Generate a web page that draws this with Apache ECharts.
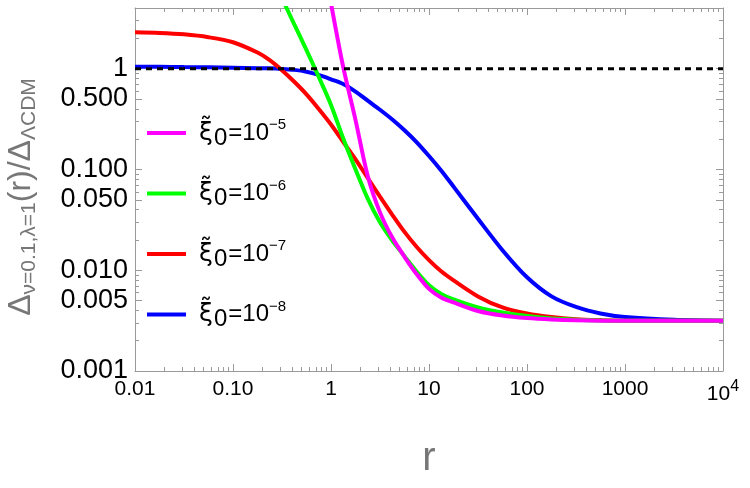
<!DOCTYPE html>
<html>
<head>
<meta charset="utf-8">
<script src="https://cdn.jsdelivr.net/npm/echarts@6/dist/echarts.min.js"></script>
<style>
  html, body { margin: 0; padding: 0; background: #fff; }
  #chart { width: 750px; height: 488px; }
</style>
</head>
<body>
<div id="chart"></div>
<script>
const rValues = [0.01, 0.0178, 0.0316, 0.0562, 0.1, 0.178, 0.237, 0.316, 0.422, 0.562, 0.75, 1, 1.33, 1.78, 2.37, 3.16, 4.22, 5.62, 7.5, 10, 13.3, 17.8, 31.6, 56.2, 100, 178, 316, 562, 1000, 3162, 10000]

// xi0 = 1e-5 (null = far above the frame)
const yPink = [null, null, null, null, null, null, null, null, null, null, 20.4, 4.44, 1.047, 0.309, 0.0861, 0.0375, 0.0211, 0.0136, 0.00912, 0.00653, 0.00537, 0.00479, 0.00394, 0.00355, 0.00335, 0.00324, 0.00318, 0.00316, 0.00316, 0.00316, 0.00316]
// xi0 = 1e-6
const yGreen = [null, null, null, null, null, 16.6, 9.12, 5.01, 2.75, 1.53, 0.828, 0.437, 0.204, 0.1, 0.0513, 0.0299, 0.0197, 0.0138, 0.00966, 0.00708, 0.00582, 0.00513, 0.00427, 0.0038, 0.00351, 0.00331, 0.00322, 0.00317, 0.00316, 0.00316, 0.00316]
// xi0 = 1e-7
const yRed = [2.30, 2.265, 2.19, 2.05, 1.83, 1.445, 1.216, 0.966, 0.741, 0.556, 0.398, 0.279, 0.188, 0.126, 0.0822, 0.0537, 0.0355, 0.024, 0.017, 0.0126, 0.00977, 0.00794, 0.0055, 0.00427, 0.00372, 0.00343, 0.00327, 0.0032, 0.00316, 0.00316, 0.00316]
// xi0 = 1e-8
const yBlue = [1.047, 1.042, 1.037, 1.033, 1.023, 1.012, 1.007, 0.995, 0.973, 0.933, 0.867, 0.785, 0.705, 0.592, 0.481, 0.391, 0.313, 0.245, 0.186, 0.136, 0.0977, 0.0676, 0.0324, 0.0158, 0.00851, 0.0055, 0.00432, 0.00372, 0.00343, 0.00322, 0.00316]

const refR = [0.01, 10000]
const refY = [1, 1]

const seriesNames = ['-5', '-6', '-7', '-8']
const seriesColors = ['#ff00ff', '#00ff00', '#ff0000', '#0000ff']

// ticks
const xTicks = [0.01, 0.1, 1, 10, 100, 1000, 10000]
const xTickLabels = ['0.01', '0.10', '1', '10', '100', '1000', '10{sup|4}']
const yTicks = [0.001, 0.005, 0.01, 0.05, 0.1, 0.5, 1]
const yTickLabels = ['0.001', '0.005', '0.010', '0.050', '0.100', '0.500', '1']

const xMinor = []
for (const d of [0.01, 0.1, 1, 10, 100, 1000]) {
  for (let k = 2; k < 10; k++) xMinor.push(d * k)
}
const yMinor = []
for (const d of [0.001, 0.01, 0.1, 1]) {
  for (let k = 2; k < 10; k++) if (k !== 5 && d * k < 4) yMinor.push(d * k)
}

const FONT = '"Liberation Sans", Arial, sans-serif'
const FRAME = '#9a9a9a'

function pairs (xs, ys) {
  return xs.map((x, i) => [x, ys[i]])
}
function lookup (v, ticks, labels) {
  let best = 0
  ticks.forEach((t, i) => {
    if (Math.abs(Math.log10(t) - Math.log10(v)) < Math.abs(Math.log10(ticks[best]) - Math.log10(v))) best = i
  })
  return labels[best]
}

function xAxisDef (pos, ticks, len, showLine, labels) {
  return {
    type: 'log', logBase: 10, min: 0.01, max: 10000, position: pos, gridIndex: 0,
    axisLine: { show: showLine, lineStyle: { color: FRAME, width: 1 } },
    axisTick: { show: true, inside: true, length: len, customValues: ticks, lineStyle: { color: FRAME } },
    axisLabel: labels ? {
      customValues: xTicks,
      formatter: v => lookup(v, xTicks, xTickLabels),
      fontSize: 21, color: '#000', fontFamily: FONT, margin: 8,
      rich: { sup: { fontSize: 16, fontFamily: FONT, color: '#000', padding: [0, 0, 14, 0] } }
    } : { show: false },
    splitLine: { show: false }
  }
}
function yAxisDef (pos, ticks, len, showLine, labels) {
  return {
    type: 'log', logBase: 10, min: 0.001, max: 4, position: pos, gridIndex: 0,
    axisLine: { show: showLine, lineStyle: { color: FRAME, width: 1 } },
    axisTick: { show: true, inside: true, length: len, customValues: ticks, lineStyle: { color: FRAME } },
    axisLabel: labels ? {
      customValues: yTicks,
      formatter: v => lookup(v, yTicks, yTickLabels),
      fontSize: 27, color: '#000', fontFamily: FONT, margin: 7
    } : { show: false },
    splitLine: { show: false }
  }
}

const chart = echarts.init(document.getElementById('chart'))

const xAxes = [
  xAxisDef('bottom', xTicks, 7, true, true),
  xAxisDef('bottom', xMinor, 4, false, false),
  xAxisDef('top', xTicks, 7, true, false),
  xAxisDef('top', xMinor, 4, false, false)
]
xAxes[0].name = 'r'
xAxes[0].nameLocation = 'middle'
xAxes[0].nameGap = 68
xAxes[0].nameTextStyle = { fontSize: 40, color: '#777', fontFamily: FONT }

const yAxes = [
  yAxisDef('left', yTicks, 7, true, true),
  yAxisDef('left', yMinor, 4, false, false),
  yAxisDef('right', yTicks, 7, true, false),
  yAxisDef('right', yMinor, 4, false, false)
]

const curves = [yPink, yGreen, yRed, yBlue]
const series = curves.map((ys, i) => ({
  name: seriesNames[i],
  type: 'line',
  xAxisIndex: 0,
  yAxisIndex: 0,
  data: pairs(rValues, ys),
  symbol: 'none',
  smooth: 0.3,
  z: 10 - i,
  color: seriesColors[i],
  lineStyle: { width: 4, color: seriesColors[i] }
}))
series.push({
  name: 'ref',
  type: 'line',
  data: pairs(refR, refY),
  symbol: 'none',
  z: 20,
  lineStyle: { width: 3, color: '#000', type: [6, 5] }
})

const option = {
  animation: false,
  backgroundColor: '#fff',
  grid: { left: 135, right: 27, top: 8, bottom: 117, containLabel: false, outerBoundsMode: 'none' },
  // y axis title, rotated
  graphic: [{
    type: 'text',
    x: 21,
    y: 197,
    rotation: Math.PI / 2,
    style: {
      text: '{m|Δ}{s|ν=0.1,λ=1}{m|(r)/Δ}{s|ΛCDM}',
      align: 'center',
      verticalAlign: 'middle',
      fill: '#777',
      font: '32px ' + FONT,
      rich: {
        m: { fontSize: 32, lineHeight: 38, fill: '#777', fontFamily: FONT },
        s: { fontSize: 21, lineHeight: 22, padding: [16, 0, 0, 0], fill: '#777', fontFamily: FONT }
      }
    }
  }],
  legend: {
    data: seriesNames,
    orient: 'vertical',
    left: 142,
    top: 111,
    itemWidth: 39,
    itemHeight: 4,
    itemGap: 26.5,
    icon: 'rect',
    formatter: n => '{g|}{x|ξ̃}{s|0}{m|=10}{p|' + n.replace('-', '−') + '}',
    textStyle: {
      color: '#000',
      fontFamily: FONT,
      rich: {
        g: { width: 8 },
        x: { fontSize: 25, lineHeight: 37, color: '#000', fontFamily: '"DejaVu Sans", sans-serif' },
        m: { fontSize: 24, lineHeight: 37, color: '#000', fontFamily: FONT },
        s: { fontSize: 24, lineHeight: 26, padding: [10, 1, 0, 1], color: '#000', fontFamily: FONT },
        p: { fontSize: 15, lineHeight: 18, padding: [0, 0, 16, 0], color: '#000', fontFamily: FONT }
      }
    }
  },
  xAxis: xAxes,
  yAxis: yAxes,
  series: series
}
chart.setOption(option)
</script>
</body>
</html>
